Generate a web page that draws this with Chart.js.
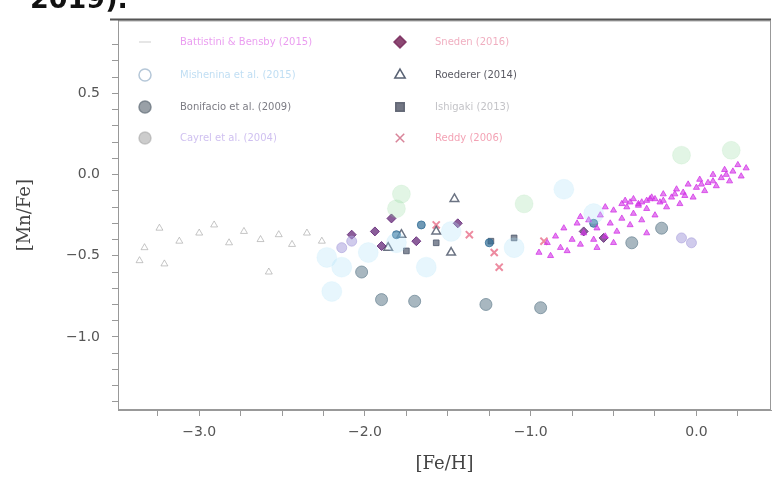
<!DOCTYPE html>
<html>
<head>
<meta charset="utf-8">
<script src="https://cdn.jsdelivr.net/npm/chart.js@4.4.1/dist/chart.umd.min.js"></script>
<style>
html, body { margin: 0; padding: 0; background: #fff; overflow: hidden; }
#wrap { position: relative; width: 782px; height: 477px; }
#chart { position: absolute; left: 0; top: 0; }
#cap { position: absolute; left: 30px; top: -17px; font: bold 27px "DejaVu Sans", sans-serif; color: #111; }
</style>
</head>
<body>
<div id="wrap">
  <canvas id="chart" width="782" height="477"></canvas>
  <div id="cap">2019).</div>
</div>
<script>
// ======== DATI ([Fe/H], [Mn/Fe]) ========
const xMajor = [-3, -2, -1, 0];
const yMajor = [0.5, 0.0, -0.5, -1.0];

const diskFeH  = [-0.95,-0.9,-0.88,-0.85,-0.82,-0.8,-0.78,-0.75,-0.72,-0.7,-0.68,-0.65,-0.62,-0.6,-0.58,-0.55,-0.52,-0.5,-0.48,-0.45,
                  -0.42,-0.4,-0.38,-0.35,-0.33,-0.3,-0.28,-0.25,-0.22,-0.2,-0.18,-0.15,-0.12,-0.1,-0.08,-0.05,-0.02,0.0,0.02,0.05,
                  0.07,0.1,0.12,0.15,0.17,0.2,0.22,0.25,0.27,0.3,-0.45,-0.4,-0.35,-0.3,-0.25,-0.6,-0.5,-0.3,
                  -0.43,-0.38,-0.33,-0.27,-0.2,-0.13,-0.07,0.03,0.1,0.18,-0.7,-0.55];
const diskMnFe = [-0.48,-0.42,-0.5,-0.38,-0.45,-0.33,-0.47,-0.4,-0.3,-0.43,-0.36,-0.28,-0.4,-0.33,-0.25,-0.38,-0.3,-0.22,-0.35,-0.27,
                  -0.2,-0.31,-0.24,-0.18,-0.28,-0.21,-0.15,-0.25,-0.17,-0.12,-0.2,-0.14,-0.09,-0.18,-0.11,-0.06,-0.14,-0.08,-0.03,-0.1,
                  -0.05,0.0,-0.07,-0.02,0.03,-0.04,0.02,0.06,-0.01,0.04,-0.18,-0.17,-0.19,-0.16,-0.15,-0.45,-0.42,-0.36,
                  -0.16,-0.15,-0.17,-0.14,-0.16,-0.12,-0.13,-0.06,-0.04,0.0,-0.26,-0.2];

const mishFeH  = [-2.14,-1.98,-1.81,-1.48,-1.10,-0.80,-0.62,-2.23,-1.63,-2.2];
const mishMnFe = [-0.57,-0.48,-0.42,-0.35,-0.45,-0.09,-0.24,-0.51,-0.57,-0.72];

const greenFeH  = [-1.81,-1.78,-1.04,-0.09,0.21];
const greenMnFe = [-0.21,-0.12,-0.18,0.12,0.15];

const boniFeH  = [-1.9,-1.27,-0.94,-1.70,-2.02,-0.39,-0.21];
const boniMnFe = [-0.77,-0.80,-0.82,-0.78,-0.60,-0.42,-0.33];

const cayFeH  = [-0.09,-0.03,-2.08,-2.14];
const cayMnFe = [-0.39,-0.42,-0.41,-0.45];

const snedFeH  = [-1.94,-1.84,-1.69,-1.44,-1.90,-2.08,-0.68,-0.56];
const snedMnFe = [-0.35,-0.27,-0.41,-0.30,-0.44,-0.37,-0.35,-0.39];

const roedFeH  = [-1.78,-1.57,-1.86,-1.48,-1.46];
const roedMnFe = [-0.37,-0.35,-0.45,-0.48,-0.15];

const ishiFeH  = [-1.75,-1.57,-1.24,-1.10];
const ishiMnFe = [-0.47,-0.42,-0.41,-0.39];

const redFeH  = [-1.57,-1.22,-0.92,-1.37,-1.19];
const redMnFe = [-0.31,-0.48,-0.41,-0.37,-0.57];

const blueFeH  = [-1.25,-1.66,-1.81,-0.62];
const blueMnFe = [-0.42,-0.31,-0.37,-0.30];

const haloFeH  = [-3.33,-3.24,-3.12,-3.0,-2.91,-2.82,-2.73,-2.63,-2.52,-2.44,-2.35,-2.26,-3.36,-3.21,-2.58];
const haloMnFe = [-0.45,-0.33,-0.41,-0.36,-0.31,-0.42,-0.35,-0.40,-0.37,-0.43,-0.36,-0.41,-0.53,-0.55,-0.60];

// ======== HELPERS ========
function pts(xs, ys) {
    return xs.map((x, i) => ({ x: x, y: ys[i] }));
}
function fmt(v) {
    return (v < 0 ? '\u2212' : '') + Math.abs(v).toFixed(1);
}

// ======== DATASETS ========
const datasets = [
    { label: 'halo', data: pts(haloFeH, haloMnFe), pointStyle: 'triangle', pointRadius: 4,
      backgroundColor: 'rgba(0,0,0,0)', borderColor: 'rgba(160,160,160,0.6)', borderWidth: 1 },
    { label: 'Mishenina et al. (2015)', data: pts(mishFeH, mishMnFe), pointStyle: 'circle', pointRadius: 10,
      backgroundColor: 'rgba(175,225,248,0.3)', borderColor: 'rgba(175,225,248,0.15)', borderWidth: 1,
      legend: { col: 0, row: 1, text: 'rgba(150,200,235,0.6)', fill: 'rgba(0,0,0,0)', stroke: 'rgba(150,175,200,0.7)' } },
    { label: 'green', data: pts(greenFeH, greenMnFe), pointStyle: 'circle', pointRadius: 9,
      backgroundColor: 'rgba(140,215,150,0.25)', borderColor: 'rgba(140,215,150,0.12)', borderWidth: 1 },
    { label: 'Battistini & Bensby (2015)', data: pts(diskFeH, diskMnFe), pointStyle: 'triangle', pointRadius: 3.5,
      backgroundColor: 'rgba(210,50,230,0.6)', borderColor: 'rgba(210,50,230,0.75)', borderWidth: 1,
      legend: { col: 0, row: 0, text: 'rgba(220,90,230,0.6)', fill: 'rgba(190,190,190,0.5)', stroke: 'rgba(190,190,190,0.5)', style: 'line' } },
    { label: 'Cayrel et al. (2004)', data: pts(cayFeH, cayMnFe), pointStyle: 'circle', pointRadius: 5,
      backgroundColor: 'rgba(170,160,220,0.55)', borderColor: 'rgba(170,160,220,0.6)', borderWidth: 1,
      legend: { col: 0, row: 3, text: 'rgba(175,150,230,0.6)', fill: 'rgba(170,170,170,0.6)', stroke: 'rgba(170,170,170,0.6)' } },
    { label: 'Bonifacio et al. (2009)', data: pts(boniFeH, boniMnFe), pointStyle: 'circle', pointRadius: 6,
      backgroundColor: 'rgba(110,135,150,0.6)', borderColor: 'rgba(110,135,150,0.75)', borderWidth: 1,
      legend: { col: 0, row: 2, text: 'rgba(90,90,100,0.8)', fill: 'rgba(110,120,130,0.7)', stroke: 'rgba(110,120,130,0.8)' } },
    { label: 'blue', data: pts(blueFeH, blueMnFe), pointStyle: 'circle', pointRadius: 4,
      backgroundColor: 'rgba(50,110,150,0.7)', borderColor: 'rgba(50,110,150,0.8)', borderWidth: 1 },
    { label: 'Sneden (2016)', data: pts(snedFeH, snedMnFe), pointStyle: 'rectRot', pointRadius: 4.5,
      backgroundColor: 'rgba(100,40,120,0.75)', borderColor: 'rgba(100,40,120,0.85)', borderWidth: 1,
      legend: { col: 1, row: 0, text: 'rgba(230,120,150,0.6)', fill: 'rgba(120,40,90,0.85)', stroke: 'rgba(120,40,90,0.85)' } },
    { label: 'Roederer (2014)', data: pts(roedFeH, roedMnFe), pointStyle: 'triangle', pointRadius: 5,
      backgroundColor: 'rgba(0,0,0,0)', borderColor: 'rgba(70,80,100,0.8)', borderWidth: 1.5,
      legend: { col: 1, row: 1, text: 'rgba(60,60,70,0.85)', fill: 'rgba(0,0,0,0)', stroke: 'rgba(70,80,100,0.9)' } },
    { label: 'Ishigaki (2013)', data: pts(ishiFeH, ishiMnFe), pointStyle: 'rect', pointRadius: 4,
      backgroundColor: 'rgba(80,90,110,0.7)', borderColor: 'rgba(80,90,110,0.8)', borderWidth: 1,
      legend: { col: 1, row: 2, text: 'rgba(170,170,175,0.7)', fill: 'rgba(90,95,110,0.85)', stroke: 'rgba(90,95,110,0.9)' } },
    { label: 'Reddy (2006)', data: pts(redFeH, redMnFe), pointStyle: 'crossRot', pointRadius: 5,
      backgroundColor: 'rgba(230,90,120,0.7)', borderColor: 'rgba(230,90,120,0.7)', borderWidth: 2,
      legend: { col: 1, row: 3, text: 'rgba(235,100,130,0.6)', fill: 'rgba(200,80,110,0.7)', stroke: 'rgba(200,80,110,0.7)' } }
];

// legenda disegnata dentro l'area del grafico, due colonne
const insideLegend = {
    id: 'insideLegend',
    afterDraw(chart) {
        const ctx = chart.ctx;
        const colX = [145, 400];
        const rowY = [42, 75, 107, 138];
        ctx.save();
        ctx.font = '10px "DejaVu Sans", sans-serif';
        ctx.textBaseline = 'middle';
        chart.data.datasets.forEach(ds => {
            const lg = ds.legend;
            if (!lg) return;
            const x = colX[lg.col], y = rowY[lg.row];
            ctx.fillStyle = lg.fill;
            ctx.strokeStyle = lg.stroke;
            ctx.lineWidth = 1.5;
            Chart.helpers.drawPoint(ctx, { pointStyle: lg.style || ds.pointStyle, radius: 6, rotation: 0, borderWidth: 1.5 }, x, y);
            ctx.fillStyle = lg.text;
            ctx.fillText(ds.label, x + 35, y);
        });
        // cornice del pannello
        const a = chart.chartArea;
        ctx.strokeStyle = '#999';
        ctx.lineWidth = 1;
        ctx.strokeRect(a.left + 0.5, a.top + 0.5, a.right - a.left - 1, a.bottom - a.top - 1);
        ctx.strokeStyle = '#555';
        ctx.lineWidth = 2;
        ctx.beginPath();
        ctx.moveTo(a.left - 8, a.top - 1);
        ctx.lineTo(a.right, a.top - 1);
        ctx.stroke();
        ctx.restore();
    }
};

const ctx = document.getElementById('chart').getContext('2d');
new Chart(ctx, {
    type: 'scatter',
    data: { datasets: datasets },
    options: {
        responsive: false,
        animation: false,
        layout: { padding: { top: 12, right: 2, left: 0, bottom: 0 } },
        plugins: { legend: { display: false }, tooltip: { enabled: false } },
        scales: {
            x: {
                min: -3.49, max: 0.45,
                afterFit: s => { s.height = 67; },
                afterBuildTicks: s => {
                    const t = [];
                    for (let v = -3.25; v <= 0.3; v += 0.25) t.push({ value: Math.round(v * 100) / 100 });
                    s.ticks = t;
                },
                grid: { drawOnChartArea: false, tickLength: 6, color: '#999' },
                border: { color: '#999' },
                ticks: {
                    autoSkip: false, maxRotation: 0, padding: 8, color: '#555',
                    font: { family: 'DejaVu Sans', size: 14 },
                    callback: v => xMajor.includes(v) ? fmt(v) : ''
                },
                title: { display: true, text: '[Fe/H]', color: '#444',
                         font: { family: 'DejaVu Serif', size: 18 }, padding: { top: 0, bottom: 2 } }
            },
            y: {
                min: -1.45, max: 0.95,
                afterFit: s => { s.width = 118; },
                afterBuildTicks: s => {
                    const t = [];
                    for (let v = -1.4; v <= 0.9; v += 0.1) t.push({ value: Math.round(v * 10) / 10 });
                    s.ticks = t;
                },
                grid: { drawOnChartArea: false, tickLength: 6, color: '#999' },
                border: { color: '#999' },
                ticks: {
                    autoSkip: false, padding: 12, color: '#555',
                    font: { family: 'DejaVu Sans', size: 14 },
                    callback: v => yMajor.includes(v) ? fmt(v) : ''
                },
                title: { display: true, text: '[Mn/Fe]', color: '#444',
                         font: { family: 'DejaVu Serif', size: 18 }, padding: { top: 15, bottom: 0 } }
            }
        }
    },
    plugins: [insideLegend]
});
</script>
</body>
</html>
